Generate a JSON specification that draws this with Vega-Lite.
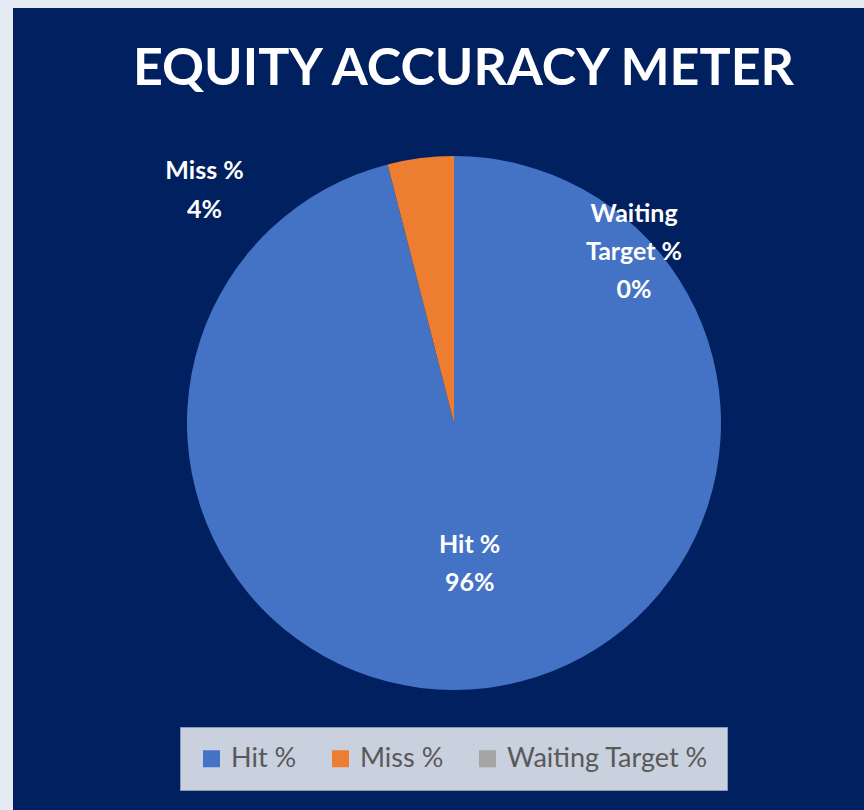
{
  "$schema": "https://vega.github.io/schema/vega-lite/v6.json",
  "width": 851,
  "height": 802,
  "autosize": {"type": "none"},
  "padding": {"left": 13, "top": 8, "right": 0, "bottom": 0},
  "background": "#E6EBF3",
  "view": {"fill": "#002060", "stroke": null},
  "title": {
    "text": "EQUITY ACCURACY METER",
    "color": "#FFFFFF",
    "font": "Lato",
    "fontSize": 52,
    "fontWeight": "bold",
    "anchor": "middle",
    "baseline": "bottom",
    "offset": 0,
    "dy": 140,
    "dx": 25
  },
  "data": {
    "values": [
      {"category": "Hit %", "value": 96, "label": "Hit %\n96%"},
      {"category": "Miss %", "value": 4, "label": "Miss %\n4%"},
      {"category": "Waiting Target %", "value": 0, "label": "Waiting\nTarget %\n0%"}
    ]
  },
  "transform": [
    {"stack": "value", "groupby": [], "as": ["v0", "v1"], "sort": [{"field": "category", "order": "ascending"}]},
    {"calculate": "(datum.v0 + datum.v1) / 2", "as": "vmid"}
  ],
  "layer": [
    {
      "mark": {"type": "arc", "outerRadius": 267, "xOffset": 15.5, "yOffset": 14, "stroke": null},
      "encoding": {
        "theta": {"field": "v0", "type": "quantitative", "scale": {"domain": [0, 100]}},
        "theta2": {"field": "v1"},
        "color": {
          "field": "category",
          "type": "nominal",
          "scale": {"domain": ["Hit %", "Miss %", "Waiting Target %"], "range": ["#4472C4", "#ED7D31", "#A5A5A5"]},
          "legend": {
            "orient": "none",
            "direction": "horizontal",
            "legendX": 167,
            "legendY": 719,
            "title": null,
            "symbolType": "square",
            "symbolSize": 289,
            "symbolStrokeWidth": 0,
            "symbolOpacity": 1,
            "labelFontSize": 27,
            "labelColor": "#595959",
            "labelFont": "Lato",
            "labelLimit": 400,
            "columnPadding": 30,
            "labelOffset": 6,
            "fillColor": "#C9D0DE",
            "strokeColor": "#8A9BBF",
            "padding": 18
          }
        }
      }
    },
    {
      "transform": [{"filter": "datum.category === 'Hit %'"}],
      "mark": {"type": "text", "font": "Lato", "fontWeight": "bold", "fontSize": 25, "color": "#FFFFFF", "lineBreak": "\n", "lineHeight": 38, "baseline": "middle", "align": "center", "xOffset": 15.5, "yOffset": 14, "dx": -2, "dy": -18},
      "encoding": {
        "theta": {"field": "vmid", "type": "quantitative", "scale": {"domain": [0, 100]}},
        "radius": {"value": 141},
        "text": {"field": "label"}
      }
    },
    {
      "transform": [{"filter": "datum.category === 'Miss %'"}],
      "mark": {"type": "text", "font": "Lato", "fontWeight": "bold", "fontSize": 25, "color": "#FFFFFF", "lineBreak": "\n", "lineHeight": 39, "baseline": "middle", "align": "center", "xOffset": 15.5, "yOffset": 14, "dx": -220, "dy": -19},
      "encoding": {
        "theta": {"field": "vmid", "type": "quantitative", "scale": {"domain": [0, 100]}},
        "radius": {"value": 235},
        "text": {"field": "label"}
      }
    },
    {
      "transform": [{"filter": "datum.category === 'Waiting Target %'"}],
      "mark": {"type": "text", "font": "Lato", "fontWeight": "bold", "fontSize": 25, "color": "#FFFFFF", "lineBreak": "\n", "lineHeight": 38, "baseline": "middle", "align": "center", "xOffset": 15.5, "yOffset": 14, "dx": 180, "dy": -37},
      "encoding": {
        "theta": {"field": "vmid", "type": "quantitative", "scale": {"domain": [0, 100]}},
        "radius": {"value": 172},
        "text": {"field": "label"}
      }
    }
  ]
}
